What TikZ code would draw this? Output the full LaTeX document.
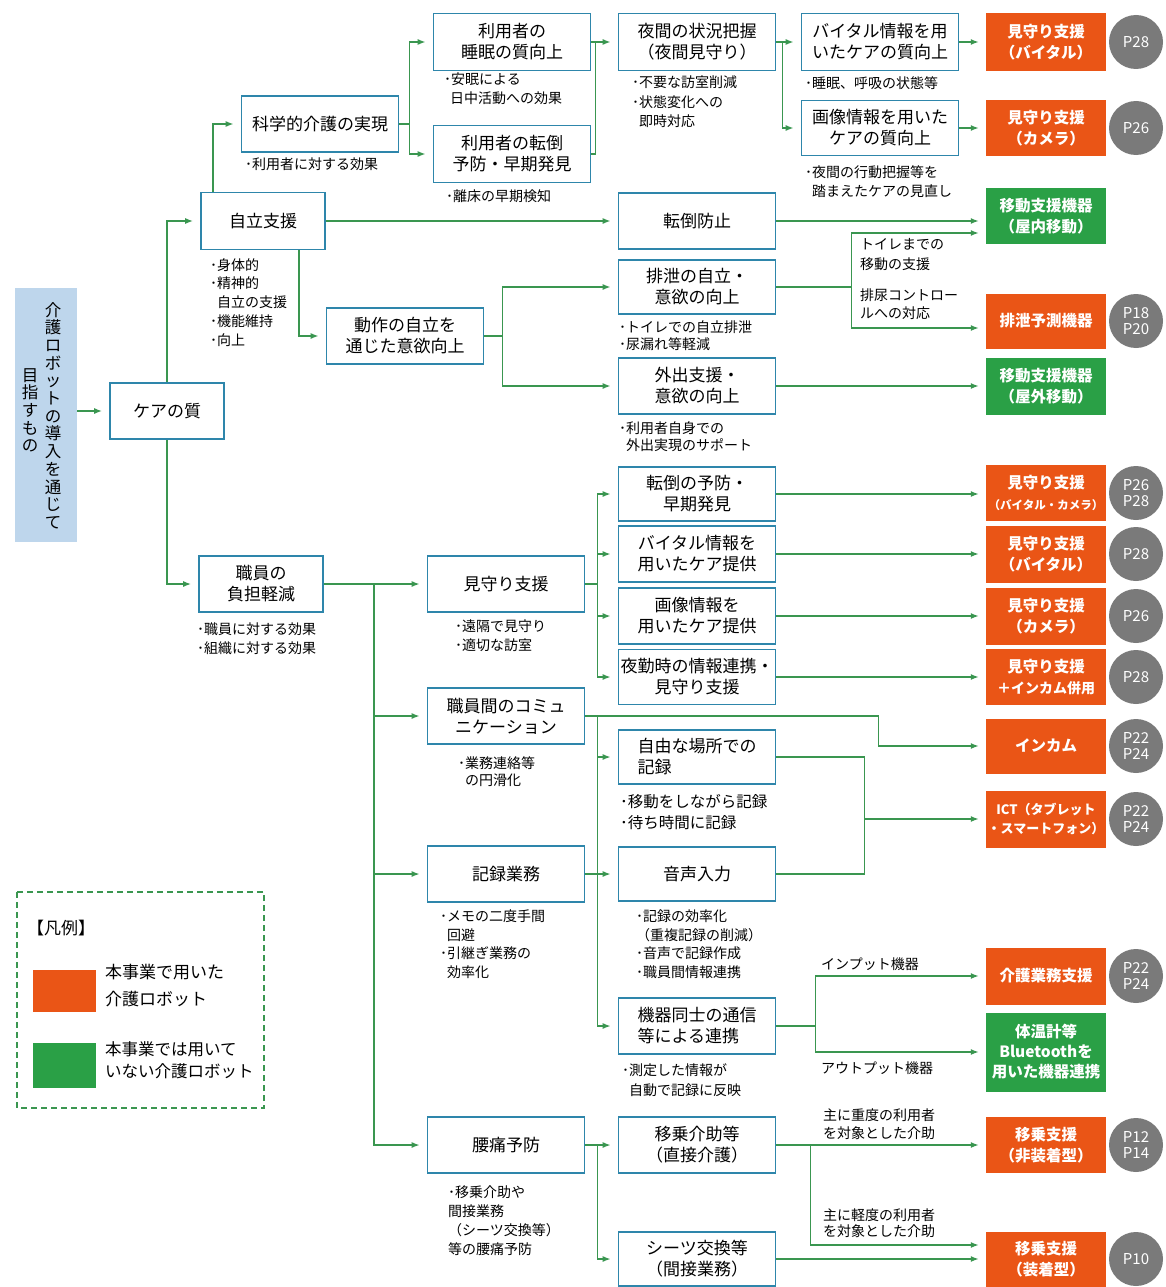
\documentclass[tikz,border=0pt]{standalone}
\usepackage{fontspec}
\setmainfont{Noto Sans CJK JP}
\usetikzlibrary{arrows.meta}

\definecolor{boxblue}{RGB}{46,134,171}
\definecolor{robotorange}{RGB}{234,85,22}
\definecolor{robotgreen}{RGB}{42,160,70}
\definecolor{linkgreen}{RGB}{58,150,80}
\definecolor{pagegray}{RGB}{122,122,122}
\definecolor{goalblue}{RGB}{190,214,236}

\newcommand{\boxfont}{\fontsize{17}{21}\selectfont}
\newcommand{\notefont}{\fontsize{14}{19}\selectfont}
\newcommand{\robotfont}{\bfseries\fontsize{15.5}{21}\selectfont}
\newcommand{\pagefont}{\fontsize{15}{16}\selectfont}
\newcommand{\goalfont}{\fontsize{16.5}{17.7}\selectfont}
\newcommand{\legendfont}{\fontsize{17}{27}\selectfont}

\begin{document}
\begin{tikzpicture}[x=1pt, y=-1pt,
  box/.style={draw=boxblue, line width=1.6pt, fill=white, minimum width=157pt, minimum height=56pt, inner sep=0pt, align=center, font=\boxfont},
  robot/.style={fill=robotorange, minimum width=120pt, minimum height=56pt, inner sep=0pt, align=center, text=white, font=\robotfont},
  grobot/.style={robot, fill=robotgreen},
  page/.style={circle, fill=pagegray, minimum size=54pt, inner sep=0pt, align=center, text=white, font=\pagefont},
  note/.style={anchor=north west, inner sep=0pt, align=left, font=\notefont},
  link/.style={draw=linkgreen, line width=1.5pt, -{Latex[length=8pt,width=6pt]}, shorten >=7pt},
  wire/.style={draw=linkgreen, line width=1.5pt}
]
  % page size and background
  \useasboundingbox (0,0) rectangle (1165,1287);
  \fill[white] (0,0) rectangle (1165,1287);

  % goal on the left
  \node[fill=goalblue, minimum width=62pt, minimum height=254pt] (goal) at (46,415) {};
  \node[font=\goalfont, align=center, anchor=north, inner sep=0pt] (goaltext1) at (53,302) {介\\護\\ロ\\ボ\\ッ\\ト\\の\\導\\入\\を\\通\\じ\\て};
  \node[font=\goalfont, align=center, anchor=north, inner sep=0pt] (goaltext2) at (30,368) {目\\指\\す\\も\\の};

  % first levels
  \node[box, minimum width=114pt] (kea) at (167,411) {ケアの質};
  \node[box, minimum width=124pt, minimum height=57pt] (jiritsu) at (263,221) {自立支援};
  \node[box, minimum width=124pt] (shokuin) at (261,584) {職員の\\負担軽減};
  \node[box] (kagaku) at (320,124) {科学的介護の実現};
  \node[box] (dosa) at (405,336) {動作の自立を\\通じた意欲向上};
  \node[box, minimum height=57pt] (suimin) at (512,42) {利用者の\\睡眠の質向上};
  \node[box, minimum height=57pt] (tento) at (512,154) {利用者の転倒\\予防・早期発見};
  \node[box] (mimamori) at (506,584) {見守り支援};
  \node[box] (comm) at (506,716) {職員間のコミュ\\ニケーション};
  \node[box] (kiroku) at (506,874) {記録業務};
  \node[box] (yotsu) at (506,1145) {腰痛予防};

  % middle column
  \node[box, minimum height=57pt] (yakan) at (697,42) {夜間の状況把握\\（夜間見守り）};
  \node[box] (tentoboshi) at (697,221) {転倒防止};
  \node[box, minimum height=54pt] (haisetsu) at (697,287) {排泄の自立・\\意欲の向上};
  \node[box] (gaishutsu) at (697,386) {外出支援・\\意欲の向上};
  \node[box, minimum height=54pt] (tentoyobo) at (697,494) {転倒の予防・\\早期発見};
  \node[box] (vitalcare) at (697,554) {バイタル情報を\\用いたケア提供};
  \node[box] (gazocare) at (697,616) {画像情報を\\用いたケア提供};
  \node[box, minimum height=55pt] (yakin) at (697,677) {夜勤時の情報連携・\\見守り支援};
  \node[box, minimum height=54pt, align=left] (jiyu) at (697,757) {自由な場所での\\記録};
  \node[box, minimum height=54pt] (onsei) at (697,874) {音声入力};
  \node[box, align=left] (kiki) at (697,1026) {機器同士の通信\\等による連携};
  \node[box] (ijo) at (697,1145) {移乗介助等\\（直接介護）};
  \node[box, minimum height=54pt] (sheets) at (697,1259) {シーツ交換等\\（間接業務）};
  \node[box, minimum height=57pt] (vital) at (880,42) {バイタル情報を用\\いたケアの質向上};
  \node[box, minimum height=55pt] (gazo) at (880,128) {画像情報を用いた\\ケアの質向上};

  % care robots
  \node[robot, minimum height=58pt] (mvital) at (1046,42) {見守り支援\\（バイタル）};
  \node[robot, minimum height=55pt] (mcamera) at (1046,128) {見守り支援\\（カメラ）};
  \node[grobot] (idoin) at (1046,216) {移動支援機器\\（屋内移動）};
  \node[robot, minimum height=55pt] (haisetsuyosoku) at (1046,321) {排泄予測機器};
  \node[grobot, minimum height=57pt] (idoout) at (1046,386) {移動支援機器\\（屋外移動）};
  \node[robot] (mboth) at (1046,493) {見守り支援\\{\fontsize{11.5}{14}\selectfont（バイタル・カメラ）}};
  \node[robot, minimum height=57pt] (mvital2) at (1046,554) {見守り支援\\（バイタル）};
  \node[robot, minimum height=57pt] (mcamera2) at (1046,616) {見守り支援\\（カメラ）};
  \node[robot] (mincom) at (1046,677) {見守り支援\\{\fontsize{14}{16}\selectfont ＋インカム併用}};
  \node[robot, minimum height=55pt] (incom) at (1046,746) {インカム};
  \node[robot, minimum height=57pt, font=\bfseries\fontsize{13}{19}\selectfont] (ict) at (1046,819) {ICT（タブレット\\・スマートフォン）};
  \node[robot, minimum height=57pt] (gyomu) at (1046,976) {介護業務支援};
  \node[grobot, minimum height=79pt, font=\bfseries\fontsize{15.5}{20}\selectfont] (bt) at (1046,1052) {体温計等\\Bluetoothを\\用いた機器連携};
  \node[robot] (ijohi) at (1046,1145) {移乗支援\\（非装着型）};
  \node[robot, minimum height=55pt] (ijoso) at (1046,1259) {移乗支援\\（装着型）};

  % page numbers
  \node[page] (p1) at (1136,42) {P28};
  \node[page] (p2) at (1136,128) {P26};
  \node[page] (p3) at (1136,321) {P18\\P20};
  \node[page] (p4) at (1136,493) {P26\\P28};
  \node[page] (p5) at (1136,554) {P28};
  \node[page] (p6) at (1136,616) {P26};
  \node[page] (p7) at (1136,677) {P28};
  \node[page] (p8) at (1136,746) {P22\\P24};
  \node[page] (p9) at (1136,819) {P22\\P24};
  \node[page] (p10) at (1136,976) {P22\\P24};
  \node[page] (p11) at (1136,1145) {P12\\P14};
  \node[page] (p12) at (1136,1259) {P10};

  % notes under the boxes
  \node[note] (nkagaku) at (245,158) {･利用者に対する効果};
  \node[note] (nsuimin) at (444,73) {･安眠による\\\hspace{6pt}日中活動への効果};
  \node[note] (ntento) at (446,190) {･離床の早期検知};
  \node[note, font=\fontsize{14}{19.5}\selectfont] (nyakan) at (632,76) {･不要な訪室削減\\･状態変化への\\\hspace{7pt}即時対応};
  \node[note] (nvital) at (805,76) {･睡眠、呼吸の状態等};
  \node[note] (ngazo) at (805,165) {･夜間の行動把握等を\\\hspace{7pt}踏まえたケアの見直し};
  \node[note, font=\fontsize{14}{18.75}\selectfont] (njiritsu) at (210,258) {･身体的\\･精神的\\\hspace{7pt}自立の支援\\･機能維持\\･向上};
  \node[note, font=\fontsize{14}{17}\selectfont] (nhaisetsu) at (619,321) {･トイレでの自立排泄\\･尿漏れ等軽減};
  \node[note, font=\fontsize{14}{17}\selectfont] (ngaishutsu) at (619,421) {･利用者自身での\\\hspace{7pt}外出実現のサポート};
  \node[note] (nshokuin) at (197,623) {･職員に対する効果\\･組織に対する効果};
  \node[note] (nmimamori) at (455,620) {･遠隔で見守り\\･適切な訪室};
  \node[note, font=\fontsize{14}{17}\selectfont] (ncomm) at (458,756) {･業務連絡等\\\hspace{7pt}の円滑化};
  \node[note, font=\fontsize{15.5}{21}\selectfont] (njiyu) at (620,794) {･移動をしながら記録\\･待ち時間に記録};
  \node[note, font=\fontsize{14}{18.5}\selectfont] (nkiroku) at (440,910) {･メモの二度手間\\\hspace{7pt}回避\\･引継ぎ業務の\\\hspace{7pt}効率化};
  \node[note, font=\fontsize{14}{18.5}\selectfont] (nonsei) at (636,910) {･記録の効率化\\（重複記録の削減）\\･音声で記録作成\\･職員間情報連携};
  \node[note, font=\fontsize{14}{20}\selectfont] (nkiki) at (622,1063) {･測定した情報が\\\hspace{7pt}自動で記録に反映};
  \node[note] (nyotsu) at (448,1186) {･移乗介助や\\間接業務\\（シーツ交換等）\\等の腰痛予防};

  % labels on the connectors
  \node[note, font=\fontsize{14}{20}\selectfont] (ltoilet) at (860,238) {トイレまでの\\移動の支援};
  \node[note, font=\fontsize{14}{18}\selectfont] (lnyo) at (860,289) {排尿コントロー\\ルへの対応};
  \node[note] (linput) at (821,958) {インプット機器};
  \node[note] (loutput) at (821,1062) {アウトプット機器};
  \node[note, font=\fontsize{14}{18}\selectfont] (ljudo) at (823,1109) {主に重度の利用者\\を対象とした介助};
  \node[note, font=\fontsize{14}{16}\selectfont] (lkeido) at (823,1209) {主に軽度の利用者\\を対象とした介助};

  % connectors, upper part
  \draw[link] (goal.east |- kea) -- (kea);
  \draw[link] (kea.north) |- (jiritsu);
  \draw[link] (kea.south) |- (shokuin);
  \draw[link] ([xshift=13pt]jiritsu.north west) |- (kagaku);
  \draw[link] ([xshift=-27pt]jiritsu.south east) |- (dosa);
  \draw[link] (jiritsu) -- (tentoboshi);
  \draw[wire] (kagaku.east) -- ++(10,0) coordinate (j1);
  \draw[link] (j1) |- (suimin);
  \draw[link] (j1) |- (tento);
  \draw[link] (suimin) -- (yakan);
  \draw[wire] (tento.east) -| ([xshift=-22pt]yakan.west);
  \draw[link] (yakan) -- (vital);
  \draw[link] ([xshift=6pt]yakan.east) |- (gazo);
  \draw[link] (vital) -- (mvital);
  \draw[link] (gazo) -- (mcamera);
  \draw[link] (tentoboshi.east) -- (tentoboshi.east -| idoin.west);
  \draw[wire] (dosa.east) -- ++(18,0) coordinate (j3);
  \draw[link] (j3) |- (haisetsu);
  \draw[link] (j3) |- (gaishutsu);
  \draw[wire] (haisetsu.east) -- ++(75,0) coordinate (j4);
  \draw[link] (j4) |- ([yshift=-17pt]idoin.west);
  \draw[link] (j4) |- ([yshift=-7pt]haisetsuyosoku.west);
  \draw[link] (gaishutsu) -- (idoout);

  % connectors, lower part
  \draw[link] (shokuin) -- (mimamori);
  \path (shokuin.east) ++(50,0) coordinate (j5);
  \draw[link] (j5) |- (comm);
  \draw[link] (j5) |- (kiroku);
  \draw[link] (j5) |- (yotsu);
  \draw[wire] (mimamori.east) -- ++(12,0) coordinate (j6);
  \draw[link] (j6) |- (tentoyobo);
  \draw[link] (j6) |- (vitalcare);
  \draw[link] (j6) |- (gazocare);
  \draw[link] (j6) |- (yakin);
  \draw[link] (tentoyobo.east) -- (tentoyobo.east -| mboth.west);
  \draw[link] (vitalcare) -- (mvital2);
  \draw[link] (gazocare) -- (mcamera2);
  \draw[link] (yakin) -- (mincom);
  \draw[link] (comm.east) -- ++(293,0) |- (incom);
  \path (comm.east) ++(12,0) coordinate (j7);
  \draw[link] (j7) |- (jiyu);
  \draw[link] (j7) |- (onsei);
  \draw[link] (j7) |- (kiki);
  \draw[wire] (kiroku.east) -- (kiroku.east -| j7);
  \draw[wire] (jiyu.east) -- ++(88,0) coordinate (j8) |- (onsei.east);
  \draw[link] (j8 |- ict) -- (ict);
  \draw[wire] (kiki.east) -- ++(39,0) coordinate (j9);
  \draw[link] (j9) |- (gyomu);
  \draw[link] (j9) |- (bt);
  \draw[wire] (yotsu.east) -- ++(12,0) coordinate (j10);
  \draw[link] (j10) |- (ijo);
  \draw[link] (j10) |- (sheets);
  \draw[link] (ijo) -- (ijohi);
  \draw[link] ([xshift=34pt]ijo.east) |- ([yshift=14pt]ijoso.west);
  \draw[link] (sheets) -- (ijoso);

  % legend
  \draw[linkgreen, line width=1.5pt, dash pattern=on 6pt off 4pt] (17,892) rectangle (264,1108);
  \node[anchor=west, inner sep=0pt, font=\fontsize{17}{20}\selectfont] (legtitle) at (27,928) {【凡例】};
  \fill[robotorange] (33,970) rectangle (96,1012);
  \node[note, font=\legendfont] (legused) at (105,964) {本事業で用いた\\介護ロボット};
  \fill[robotgreen] (33,1043) rectangle (96,1088);
  \node[note, font=\fontsize{16.5}{22}\selectfont] (legunused) at (105,1041) {本事業では用いて\\いない介護ロボット};
\end{tikzpicture}
\end{document}
